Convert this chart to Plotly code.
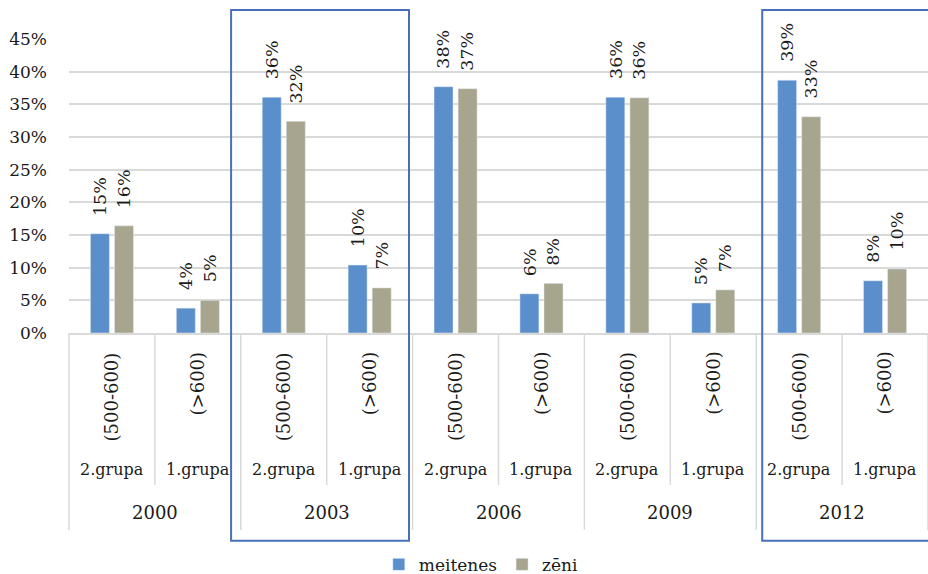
import plotly.graph_objects as go

# Survey years, score groups and score ranges for each bar pair
years = ["2000", "2003", "2006", "2009", "2012"]
groups = ["2.grupa", "1.grupa"]
ranges = ["(500-600)", "(>600)"]

# Share of students per group (fractions)
meitenes = [0.152, 0.038, 0.361, 0.104, 0.377, 0.060, 0.361, 0.046, 0.387, 0.080]
zeni = [0.164, 0.050, 0.324, 0.069, 0.374, 0.076, 0.360, 0.066, 0.331, 0.098]

# Years highlighted with a frame
highlighted = ["2003", "2012"]

FONT = "DejaVu Serif"
TXT = "#1a1a1a"
GRID = "#d9d9d9"
BLUE = "#5b8fcc"
KHAKI = "#a7a58e"
FRAME = "#4a6fba"

n_cat = len(years) * len(groups)
xs = list(range(n_cat))
cat_groups = groups * len(years)
cat_ranges = ranges * len(years)

bargap = 0.44
bargroupgap = 0.21
half_slot = (1 - bargap) / 4  # distance from category centre to each bar centre

fig = go.Figure()
fig.add_trace(go.Bar(x=xs, y=meitenes, name="meitenes", marker_color=BLUE))
fig.add_trace(go.Bar(x=xs, y=zeni, name="zēni", marker_color=KHAKI))

annotations = []
shapes = []

# value labels above the bars, rotated
for vals, off in ((meitenes, -half_slot), (zeni, half_slot)):
    for x, v in zip(xs, vals):
        annotations.append(dict(
            x=x + off, y=v, xref="x", yref="y", text=f"{v:.0%}",
            textangle=-90, showarrow=False, xanchor="center", yanchor="bottom",
            yshift=16, font=dict(family=FONT, size=17.5, color=TXT)))

# multi-level category labels below the axis
for x, g, r in zip(xs, cat_groups, cat_ranges):
    px = (x + 0.5) / n_cat
    annotations.append(dict(
        x=px, y=-0.058, xref="paper", yref="paper", text=r, textangle=-90,
        showarrow=False, xanchor="center", yanchor="top",
        font=dict(family=FONT, size=18, color=TXT)))
    annotations.append(dict(
        x=px, y=-0.465, xref="paper", yref="paper", text=g,
        showarrow=False, xanchor="center", yanchor="middle",
        font=dict(family=FONT, size=16, color=TXT)))

for j, yr in enumerate(years):
    annotations.append(dict(
        x=(2 * j + 1) / n_cat, y=-0.61, xref="paper", yref="paper", text=yr,
        showarrow=False, xanchor="center", yanchor="middle",
        font=dict(family=FONT, size=18, color=TXT)))

# divider lines between categories (longer between years)
for k in range(n_cat + 1):
    y_end = -0.670 if k % 2 == 0 else -0.517
    shapes.append(dict(
        type="line", xref="paper", yref="paper", x0=k / n_cat, x1=k / n_cat,
        y0=0, y1=y_end, line=dict(color=GRID, width=1.5)))

# frames around highlighted years
frame_pad = {"2003": (-0.113, -0.042), "2012": (0.07, 0.2)}
for yr in highlighted:
    j = years.index(yr)
    lp, rp = frame_pad[yr]
    x0 = (2 * j + lp) / n_cat
    x1 = (2 * j + 2 + rp) / n_cat
    shapes.append(dict(
        type="rect", xref="paper", yref="paper", x0=x0, x1=x1,
        y0=-0.707, y1=1.099, line=dict(color=FRAME, width=2),
        fillcolor="rgba(0,0,0,0)"))

fig.update_layout(
    width=928, height=574,
    margin=dict(l=69, r=0, t=39, b=241, autoexpand=False),
    paper_bgcolor="white", plot_bgcolor="white",
    barmode="group", bargap=bargap, bargroupgap=bargroupgap,
    font=dict(family=FONT, size=17, color=TXT),
    showlegend=True,
    legend=dict(orientation="h", x=0.48, xanchor="center",
                yref="container", y=0.016, yanchor="middle",
                font=dict(family=FONT, size=17, color=TXT),
                itemwidth=30, tracegroupgap=0),
    annotations=annotations, shapes=shapes,
)
fig.update_xaxes(range=[-0.5, n_cat - 0.5], showticklabels=False,
                 showgrid=False, zeroline=False, showline=True,
                 linecolor=GRID, linewidth=1.5, fixedrange=True)
fig.update_yaxes(range=[0, 0.45], dtick=0.05, tickformat=".0%",
                 showgrid=True, gridcolor=GRID, gridwidth=1.5, zeroline=False,
                 ticks="", ticklabelstandoff=21,
                 tickfont=dict(family=FONT, size=17, color=TXT))

fig.write_html("out.html")
